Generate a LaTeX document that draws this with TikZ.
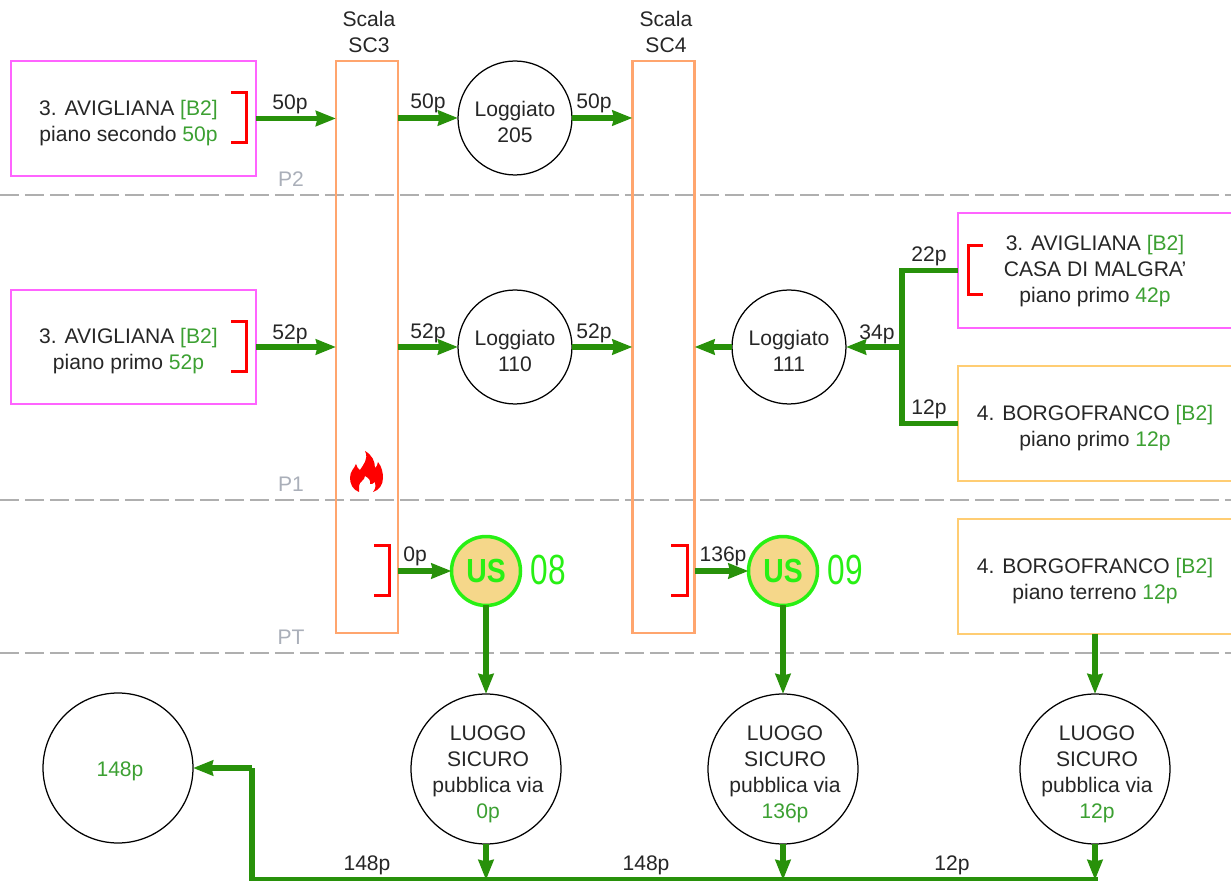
\documentclass[tikz,border=0pt]{standalone}
\usepackage{fontspec}
\setmainfont{Liberation Sans}
\usepackage{xcolor}
\usetikzlibrary{arrows.meta,calc}
\definecolor{flowgreen}{RGB}{40,145,10}
\definecolor{numgreen}{RGB}{60,160,50}
\definecolor{exitgreen}{RGB}{40,240,20}
\definecolor{boxmag}{RGB}{255,100,255}
\definecolor{boxorange}{RGB}{255,205,115}
\definecolor{stairorange}{RGB}{255,165,110}
\definecolor{exitfill}{RGB}{245,215,138}
\definecolor{floorgray}{RGB}{175,175,175}
\definecolor{floortext}{RGB}{170,175,185}
\newcommand{\pnum}[1]{\textcolor{numgreen}{#1}}
\tikzset{
  every node/.style={font=\fontsize{12}{14.8}\selectfont, text=black!85, align=center, inner sep=0pt, outer sep=0pt},
  flow/.style={line width=0.11cm, flowgreen, -{Stealth[length=0.4cm,width=0.3cm,inset=0.03cm]}},
  flowline/.style={line width=0.11cm, flowgreen},
  floorline/.style={line width=0.04cm, floorgray, dash pattern=on 0.38cm off 0.12cm},
  floorlabel/.style={text=floortext},
  bracket/.style={line width=0.06cm, red},
  roombox/.style={draw=boxmag, line width=0.04cm, minimum width=4.9cm, minimum height=2.3cm},
  roomboxb/.style={draw=boxorange, line width=0.04cm, minimum width=5.48cm, minimum height=2.3cm},
  stair/.style={draw=stairorange, line width=0.042cm, minimum width=1.24cm, minimum height=11.46cm},
  hall/.style={draw, circle, line width=0.025cm, minimum size=2.28cm},
  safe/.style={draw, circle, line width=0.025cm, minimum size=3cm},
  exitnode/.style={draw=exitgreen, fill=exitfill, circle, line width=0.07cm, minimum size=1.38cm,
    text=exitgreen, font=\fontsize{19}{19}\selectfont\bfseries},
  exitnum/.style={text=exitgreen, font=\fontsize{24}{24}\selectfont}
}
\begin{document}
\begin{tikzpicture}[x=0.02cm, y=-0.02cm, >=Stealth]
\useasboundingbox (0,0) rectangle (1231,881);

% Floors
\foreach \y/\n/\ly in {195/P2/179, 500/P1/484, 653/PT/637} {
  \draw[floorline] (0,\y) -- (1231,\y);
  \node[floorlabel] (floor\n) at (291,\ly) {\n};
}

% Stairs
\node[stair] (sc3) at (367,347) {};
\node[stair] (sc4) at (663.5,347) {};
\node (sc3txt) at (369,32) {Scala\\SC3};
\node (sc4txt) at (666,32) {Scala\\SC4};

% Rooms
\node[roombox] (avi2) at (133.5,118.5) {};
\node (avi2txt) at (128.5,123) {3. AVIGLIANA \pnum{[B2]}\\piano secondo \pnum{50p}};
\node[roombox] (avi1) at (133.5,347) {};
\node (avi1txt) at (128.5,351) {3. AVIGLIANA \pnum{[B2]}\\piano primo \pnum{52p}};
\node[roomboxb, draw=boxmag] (casa) at (1095,270.5) {};
\node (casatxt) at (1095,271.5) {3. AVIGLIANA \pnum{[B2]}\\CASA DI MALGRA'\\piano primo \pnum{42p}};
\node[roomboxb] (borgo1) at (1095,423.5) {};
\node (borgo1txt) at (1095,428) {4. BORGOFRANCO \pnum{[B2]}\\piano primo \pnum{12p}};
\node[roomboxb] (borgo0) at (1095,576.5) {};
\node (borgo0txt) at (1095,581) {4. BORGOFRANCO \pnum{[B2]}\\piano terreno \pnum{12p}};

% Halls
\node[hall] (log205) at (515,118) {};
\node (log205txt) at (515,122) {Loggiato\\205};
\node[hall] (log110) at (515,347) {};
\node (log110txt) at (515,351) {Loggiato\\110};
\node[hall] (log111) at (789,347) {};
\node (log111txt) at (789,351) {Loggiato\\111};

% Exits
\node[exitnode] (us08) at (486,571) {\scalebox{0.85}[1]{US}};
\node[exitnode] (us09) at (783,571) {\scalebox{0.85}[1]{US}};
\node[exitnum] (num08) at (548,570) {\scalebox{0.75}[1]{08}};
\node[exitnum] (num09) at (845,570) {\scalebox{0.75}[1]{09}};

% Safe places
\node[safe] (safe08) at (486,769) {};
\node (safe08txt) at (488,774) {LUOGO\\SICURO\\pubblica via\\\pnum{0p}};
\node[safe] (safe09) at (783,769) {};
\node (safe09txt) at (785,774) {LUOGO\\SICURO\\pubblica via\\\pnum{136p}};
\node[safe] (safeb) at (1095,769) {};
\node (safebtxt) at (1097,774) {LUOGO\\SICURO\\pubblica via\\\pnum{12p}};
\node[safe] (safeall) at (118,768) {};
\node (safealltxt) at (120,771) {\pnum{148p}};

% Flows, second floor
\draw[flow] (avi2.east) -- (sc3.west |- avi2.east);
\draw[flow] (sc3.east |- log205.west) -- (log205.west);
\draw[flow] (log205.east) -- (sc4.west |- log205.east);

% Flows, first floor
\draw[flow] (avi1.east) -- (sc3.west |- avi1.east);
\draw[flow] (sc3.east |- log110.west) -- (log110.west);
\draw[flow] (log110.east) -- (sc4.west |- log110.east);
\draw[flow] (log111.west) -- (sc4.east |- log111.west);
\coordinate (joint) at (902,347);
\draw[flow] (joint) -- (log111.east);
\draw[flowline] (casa.west) -- (joint |- casa.west) -- (joint |- borgo1.west) -- (borgo1.west);

% Flows, ground floor
\draw[flow] (sc3.east |- us08.west) -- (us08.west);
\draw[flow] (sc4.east |- us09.west) -- (us09.west);
\draw[flow] (us08.south) -- (safe08.north);
\draw[flow] (us09.south) -- (safe09.north);
\draw[flow] (borgo0.south -| safeb.north) -- (safeb.north);

% Road
\coordinate (road) at (252,880);
\coordinate (roadend) at (1098,880);
\draw[flow] (safe08.south) -- (safe08.south |- road);
\draw[flow] (safe09.south) -- (safe09.south |- road);
\draw[flow] (safeb.south) -- (safeb.south |- road);
\draw[flowline] (roadend) -- (road) -- (road |- safeall.east);
\draw[flow] (road |- safeall.east) -- (safeall.east);

% Brackets
\foreach \ya/\yb/\xa/\xb in {93/143/231/246, 322/372/231/246, 546/596/374/389, 546/596/671/687, 246/295/983/968}
  \draw[bracket] (\xa,\ya) -- (\xb,\ya) -- (\xb,\yb) -- (\xa,\yb);

% Fire
\fill[red] (359,492) .. controls (353,490) and (350,484) .. (350,478)
  .. controls (350,471) and (354,469) .. (356,464) .. controls (357,467) and (358,469) .. (360,470)
  .. controls (363,465) and (369,459) .. (365,451) .. controls (372,455) and (375,461) .. (375,468)
  .. controls (377,467) and (377,465) .. (378,462) .. controls (382,467) and (383,473) .. (383,478)
  .. controls (383,485) and (379,490) .. (373,492) .. controls (376,488) and (376,485) .. (375,482)
  .. controls (373,484) and (372,484) .. (370,484) .. controls (371,481) and (369,478) .. (365,476)
  .. controls (365,480) and (359,482) .. (359,486) .. controls (359,488) and (359,490) .. (359,492) -- cycle;

% Labels
\foreach \x/\y/\t/\n in {290/104/50p/a, 428/103/50p/b, 594/103/50p/c, 290/334/52p/d, 428/333/52p/e, 594/333/52p/f,
  877/334/34p/g, 929/256/22p/h, 929/409/12p/i, 415/556/0p/j, 723/556/136p/k, 367/865/148p/l, 646/865/148p/m, 952/865/12p/o}
  \node (lbl\n) at (\x,\y) {\t};
\end{tikzpicture}
\end{document}
